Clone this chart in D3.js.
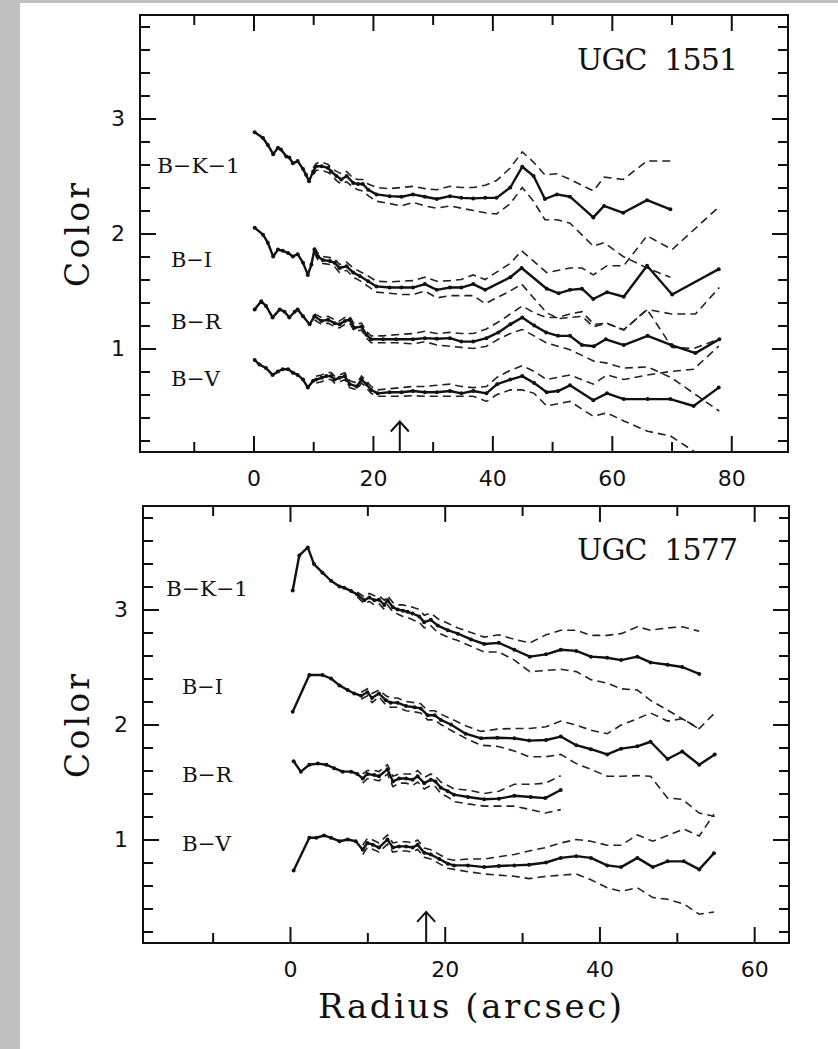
<!DOCTYPE html>
<html>
<head>
<meta charset="utf-8">
<script src="https://cdn.jsdelivr.net/npm/d3@7/dist/d3.min.js"></script>
<style>
    html, body { margin: 0; padding: 0; background: #fff; overflow: hidden; }
    svg { display: block; }
</style>
</head>
<body>
<div id="chart"></div>
<script>
// ---------- UGC 1551 (radius in arcsec, color in mag) ----------
var u1551_bk_r = [0.2, 1.6, 2.4, 3.3, 4.1, 4.6, 5.5, 6.0, 6.6, 7.4, 8.3, 8.8, 9.3, 10.0, 10.5, 11.4, 12.5, 13.0, 13.9, 14.7, 15.6, 16.7, 17.5, 18.3, 19.2, 20.6, 22.8, 24.8, 26.7, 28.7, 30.7, 32.9, 34.8, 36.8, 38.8, 40.7, 43.0, 45.0, 46.9, 48.8, 50.8, 53.0, 56.9, 58.7, 61.9, 65.9, 69.8];
var u1551_bk = [2.88, 2.83, 2.77, 2.69, 2.745, 2.73, 2.67, 2.66, 2.61, 2.63, 2.56, 2.51, 2.455, 2.54, 2.585, 2.585, 2.57, 2.54, 2.50, 2.47, 2.50, 2.44, 2.43, 2.43, 2.38, 2.34, 2.325, 2.32, 2.34, 2.32, 2.30, 2.325, 2.31, 2.305, 2.31, 2.31, 2.40, 2.58, 2.50, 2.30, 2.34, 2.32, 2.14, 2.24, 2.18, 2.29, 2.21];
var u1551_bk_hi = [null, null, null, null, null, null, null, null, null, null, null, null, null, 2.57, 2.61, 2.62, 2.60, 2.57, 2.54, 2.52, 2.54, 2.48, 2.47, 2.47, 2.43, 2.40, 2.39, 2.40, 2.41, 2.39, 2.38, 2.41, 2.40, 2.40, 2.42, 2.46, 2.57, 2.71, 2.62, 2.51, 2.52, 2.47, 2.37, 2.49, 2.47, 2.63, 2.63];
var u1551_bk_lo = [null, null, null, null, null, null, null, null, null, null, null, null, null, 2.51, 2.55, 2.55, 2.53, 2.51, 2.46, 2.43, 2.45, 2.40, 2.38, 2.37, 2.33, 2.28, 2.26, 2.24, 2.27, 2.24, 2.22, 2.24, 2.22, 2.20, 2.18, 2.17, 2.26, 2.40, 2.28, 2.12, 2.12, 2.09, 1.89, 1.92, 1.80, 1.70, 1.62];

var u1551_bi_r = [0.2, 1.6, 2.4, 3.3, 4.1, 4.9, 5.8, 6.6, 7.4, 8.3, 9.1, 9.7, 10.2, 10.8, 11.6, 12.8, 13.6, 14.4, 15.6, 16.7, 17.8, 19.2, 20.6, 22.8, 24.8, 26.7, 28.7, 30.7, 32.9, 34.8, 36.8, 38.8, 43.0, 44.9, 49.1, 51.1, 53.0, 55.0, 56.9, 59.2, 62.0, 65.9, 70.1, 73.7, 77.9];
var u1551_bi = [2.05, 1.99, 1.92, 1.80, 1.86, 1.85, 1.83, 1.80, 1.82, 1.745, 1.64, 1.73, 1.86, 1.80, 1.77, 1.76, 1.745, 1.70, 1.715, 1.66, 1.63, 1.585, 1.54, 1.53, 1.53, 1.53, 1.56, 1.51, 1.53, 1.53, 1.56, 1.51, 1.62, 1.70, 1.52, 1.48, 1.51, 1.52, 1.43, 1.49, 1.45, 1.72, 1.47, null, 1.69];
var u1551_bi_hi = [null, null, null, null, null, null, null, null, null, null, null, null, 1.88, 1.83, 1.80, 1.79, 1.78, 1.73, 1.75, 1.70, 1.67, 1.63, 1.585, 1.58, 1.585, 1.59, 1.62, 1.585, 1.59, 1.60, 1.64, 1.60, 1.74, 1.85, 1.66, 1.68, 1.70, 1.70, 1.64, 1.72, 1.72, 1.98, 1.86, null, 2.23];
var u1551_bi_lo = [null, null, null, null, null, null, null, null, null, null, null, null, 1.83, 1.77, 1.74, 1.73, 1.71, 1.66, 1.68, 1.62, 1.59, 1.54, 1.49, 1.48, 1.47, 1.47, 1.50, 1.44, 1.46, 1.46, 1.46, 1.39, 1.50, 1.56, 1.31, 1.26, 1.27, 1.28, 1.19, 1.22, 1.16, 1.34, 1.01, 1.00, 1.08];

var u1551_br_r = [0.2, 1.3, 2.1, 3.2, 4.4, 5.2, 6.0, 6.9, 7.4, 8.3, 9.4, 10.2, 11.4, 12.5, 13.6, 14.4, 15.3, 16.1, 16.9, 18.1, 18.9, 19.7, 21.7, 23.9, 26.7, 28.7, 30.7, 32.9, 34.8, 36.8, 39.0, 41.0, 43.0, 45.0, 47.0, 49.0, 51.0, 53.0, 55.0, 57.0, 59.0, 62.0, 66.0, 70.0, 74.0, 78.0];
var u1551_br = [1.34, 1.41, 1.37, 1.27, 1.34, 1.32, 1.27, 1.32, 1.34, 1.28, 1.21, 1.28, 1.24, 1.25, 1.22, 1.21, 1.24, 1.25, 1.18, 1.19, 1.12, 1.08, 1.08, 1.08, 1.08, 1.09, 1.085, 1.09, 1.06, 1.06, 1.09, 1.14, 1.21, 1.27, 1.20, 1.14, 1.11, 1.11, 1.03, 1.02, 1.08, 1.03, 1.11, 1.03, 0.96, 1.08];
var u1551_br_hi = [null, null, null, null, null, null, null, null, null, null, null, 1.30, 1.27, 1.28, 1.25, 1.24, 1.27, 1.28, 1.21, 1.22, 1.15, 1.11, 1.11, 1.12, 1.13, 1.15, 1.13, 1.14, 1.13, 1.13, 1.17, 1.23, 1.30, 1.37, 1.31, 1.27, 1.27, 1.30, 1.32, 1.21, 1.22, 1.165, 1.34, 1.30, 1.30, 1.53];
var u1551_br_lo = [null, null, null, null, null, null, null, null, null, null, null, 1.25, 1.21, 1.22, 1.19, 1.18, 1.21, 1.22, 1.15, 1.16, 1.09, 1.05, 1.05, 1.05, 1.04, 1.06, 1.03, 1.02, 1.01, 1.00, 1.02, 1.08, 1.13, 1.165, 1.11, 1.05, 1.02, 0.99, 0.94, 0.89, 0.875, 0.83, 0.84, 0.745, 0.60, 0.455];

var u1551_bv_r = [0.2, 1.0, 2.1, 3.2, 4.1, 4.9, 5.8, 6.6, 7.4, 8.3, 9.1, 10.0, 10.5, 11.4, 12.2, 13.0, 13.6, 14.4, 15.3, 16.1, 17.3, 18.1, 18.9, 19.7, 20.8, 22.8, 24.8, 26.7, 28.7, 30.7, 32.9, 34.8, 36.8, 39.0, 40.8, 43.0, 45.0, 47.0, 49.1, 51.0, 53.0, 56.9, 59.2, 62.0, 66.0, 69.8, 73.7, 77.9];
var u1551_bv = [0.90, 0.86, 0.83, 0.77, 0.80, 0.82, 0.82, 0.79, 0.77, 0.73, 0.66, 0.72, 0.73, 0.745, 0.76, 0.76, 0.73, 0.745, 0.76, 0.69, 0.67, 0.73, 0.69, 0.64, 0.61, 0.62, 0.62, 0.63, 0.62, 0.62, 0.63, 0.61, 0.63, 0.61, 0.69, 0.73, 0.76, 0.70, 0.62, 0.63, 0.68, 0.55, 0.61, 0.56, 0.56, 0.56, 0.50, 0.66];
var u1551_bv_hi = [null, null, null, null, null, null, null, null, null, null, null, null, 0.76, 0.77, 0.79, 0.79, 0.76, 0.77, 0.79, 0.72, 0.70, 0.76, 0.72, 0.67, 0.64, 0.65, 0.66, 0.67, 0.67, 0.68, 0.69, 0.67, 0.66, 0.67, 0.75, 0.81, 0.85, 0.80, 0.73, 0.75, 0.77, 0.69, 0.77, 0.73, 0.77, 0.80, 0.82, 1.02];
var u1551_bv_lo = [null, null, null, null, null, null, null, null, null, null, null, null, 0.70, 0.71, 0.73, 0.73, 0.70, 0.71, 0.73, 0.66, 0.64, 0.70, 0.66, 0.61, 0.585, 0.585, 0.585, 0.59, 0.585, 0.585, 0.585, 0.585, 0.585, 0.54, 0.60, 0.64, 0.64, 0.61, 0.50, 0.52, 0.54, 0.41, 0.44, 0.37, 0.28, 0.24, 0.107, -0.05];

// ---------- UGC 1577 ----------
var u1577_bk_r = [0.35, 1.2, 2.3, 3.1, 4.2, 5.3, 6.4, 7.0, 7.9, 8.7, 9.6, 10.25, 10.9, 11.5, 12.2, 12.6, 13.3, 13.9, 14.6, 15.2, 15.85, 16.7, 17.35, 18.2, 19.1, 20.4, 21.7, 23.4, 25.1, 27.0, 29.0, 31.0, 33.1, 35.0, 37.0, 38.9, 41.0, 42.8, 44.9, 46.6, 48.8, 50.7, 52.9];
var u1577_bk = [3.165, 3.47, 3.54, 3.395, 3.32, 3.25, 3.20, 3.19, 3.16, 3.13, 3.08, 3.105, 3.08, 3.085, 3.04, 3.08, 3.02, 3.00, 2.99, 2.98, 2.965, 2.94, 2.89, 2.91, 2.86, 2.82, 2.79, 2.74, 2.70, 2.71, 2.65, 2.59, 2.61, 2.65, 2.64, 2.59, 2.58, 2.56, 2.59, 2.54, 2.52, 2.50, 2.44];
var u1577_bk_hi = [null, null, null, null, null, null, null, null, null, 3.15, 3.11, 3.14, 3.12, 3.12, 3.08, 3.12, 3.06, 3.04, 3.04, 3.03, 3.02, 3.00, 2.95, 2.97, 2.92, 2.88, 2.84, 2.80, 2.76, 2.78, 2.74, 2.71, 2.78, 2.82, 2.82, 2.775, 2.775, 2.79, 2.85, 2.82, 2.84, 2.85, 2.81];
var u1577_bk_lo = [null, null, null, null, null, null, null, null, null, 3.11, 3.05, 3.07, 3.04, 3.05, 3.00, 3.04, 2.98, 2.96, 2.94, 2.93, 2.91, 2.89, 2.84, 2.86, 2.80, 2.76, 2.73, 2.68, 2.63, 2.63, 2.56, 2.46, 2.47, 2.48, 2.46, 2.39, 2.36, 2.31, 2.30, 2.21, 2.125, 2.05, 1.96];

var u1577_bi_r = [0.35, 2.5, 4.2, 5.3, 6.4, 7.45, 8.3, 9.2, 10.0, 10.6, 11.5, 12.4, 13.0, 13.9, 15.0, 16.1, 16.9, 17.8, 18.7, 19.5, 20.8, 22.7, 24.7, 26.8, 29.0, 30.9, 33.1, 35.0, 37.0, 38.9, 41.0, 42.8, 44.9, 46.6, 48.8, 50.7, 52.9, 54.9];
var u1577_bi = [2.11, 2.43, 2.43, 2.40, 2.34, 2.30, 2.27, 2.25, 2.28, 2.23, 2.27, 2.21, 2.19, 2.19, 2.16, 2.15, 2.14, 2.08, 2.08, 2.04, 2.00, 1.92, 1.88, 1.885, 1.88, 1.86, 1.865, 1.895, 1.82, 1.785, 1.74, 1.79, 1.81, 1.85, 1.70, 1.765, 1.65, 1.74];
var u1577_bi_hi = [null, null, null, null, null, null, null, 2.28, 2.31, 2.27, 2.30, 2.25, 2.23, 2.23, 2.20, 2.19, 2.18, 2.12, 2.12, 2.09, 2.05, 1.99, 1.94, 1.96, 1.965, 1.965, 1.98, 2.03, 1.995, 1.95, 1.92, 1.995, 2.05, 2.10, 2.03, 2.05, 1.965, 2.10];
var u1577_bi_lo = [null, null, null, null, null, null, null, 2.22, 2.25, 2.19, 2.24, 2.17, 2.15, 2.15, 2.12, 2.11, 2.10, 2.04, 2.04, 2.00, 1.95, 1.88, 1.82, 1.81, 1.77, 1.72, 1.72, 1.74, 1.66, 1.61, 1.55, 1.55, 1.555, 1.55, 1.36, 1.35, 1.23, 1.20];

var u1577_br_r = [0.47, 1.4, 2.5, 3.6, 4.7, 5.7, 6.8, 7.9, 8.7, 9.4, 10.0, 10.9, 11.5, 12.6, 13.3, 14.1, 15.0, 15.85, 16.5, 17.35, 18.2, 18.8, 19.5, 20.4, 21.2, 23.0, 25.1, 27.0, 29.0, 31.1, 33.0, 35.0];
var u1577_br = [1.68, 1.59, 1.65, 1.66, 1.65, 1.62, 1.59, 1.59, 1.57, 1.53, 1.57, 1.56, 1.55, 1.61, 1.505, 1.53, 1.53, 1.52, 1.55, 1.49, 1.52, 1.505, 1.45, 1.42, 1.39, 1.37, 1.35, 1.355, 1.38, 1.37, 1.36, 1.43];
var u1577_br_hi = [null, null, null, null, null, null, null, null, null, 1.57, 1.60, 1.60, 1.59, 1.65, 1.55, 1.57, 1.57, 1.57, 1.60, 1.54, 1.57, 1.55, 1.50, 1.47, 1.44, 1.43, 1.40, 1.42, 1.48, 1.48, 1.49, 1.555];
var u1577_br_lo = [null, null, null, null, null, null, null, null, null, 1.49, 1.53, 1.52, 1.51, 1.57, 1.46, 1.49, 1.49, 1.47, 1.50, 1.44, 1.47, 1.46, 1.40, 1.37, 1.33, 1.31, 1.29, 1.29, 1.29, 1.26, 1.23, 1.26];

var u1577_bv_r = [0.47, 2.5, 3.4, 4.4, 5.3, 6.4, 7.45, 8.5, 9.4, 10.0, 10.7, 11.5, 12.6, 13.3, 14.1, 15.0, 15.85, 16.5, 17.35, 18.2, 19.3, 20.4, 21.2, 23.0, 25.1, 27.0, 29.0, 30.9, 33.1, 35.0, 37.0, 38.9, 41.0, 42.8, 44.9, 46.9, 48.8, 50.9, 52.9, 54.8];
var u1577_bv = [0.73, 1.015, 1.015, 1.035, 1.015, 0.985, 1.00, 0.985, 0.91, 0.97, 0.955, 0.93, 1.00, 0.93, 0.94, 0.94, 0.93, 0.955, 0.885, 0.87, 0.83, 0.79, 0.775, 0.775, 0.76, 0.77, 0.775, 0.78, 0.80, 0.84, 0.855, 0.84, 0.775, 0.76, 0.84, 0.76, 0.81, 0.81, 0.74, 0.88];
var u1577_bv_hi = [null, null, null, null, null, null, null, null, 0.95, 1.01, 0.995, 0.97, 1.04, 0.97, 0.98, 0.98, 0.97, 0.995, 0.925, 0.91, 0.87, 0.83, 0.82, 0.83, 0.83, 0.85, 0.87, 0.90, 0.93, 0.97, 1.00, 0.985, 0.95, 0.95, 1.04, 0.985, 1.035, 1.09, 1.03, 1.22];
var u1577_bv_lo = [null, null, null, null, null, null, null, null, 0.87, 0.93, 0.915, 0.89, 0.96, 0.89, 0.90, 0.90, 0.89, 0.915, 0.845, 0.83, 0.79, 0.75, 0.74, 0.72, 0.70, 0.69, 0.68, 0.66, 0.68, 0.69, 0.70, 0.65, 0.58, 0.55, 0.58, 0.495, 0.48, 0.44, 0.35, 0.37];

// tick values
var yMajor = [1, 2, 3];
var yMinor = [0.2, 0.4, 0.6, 0.8, 1.2, 1.4, 1.6, 1.8, 2.2, 2.4, 2.6, 2.8, 3.2, 3.4, 3.6, 3.8];
var x1551Major = [0, 20, 40, 60, 80];
var x1551Minor = [-10, 10, 30, 50, 70];
var x1577Major = [0, 20, 40, 60];
var x1577Minor = [-10, 10, 30, 50];

// ---------- layout ----------
var WIDTH = 838, HEIGHT = 1049;
var TICK_FONT = "'DejaVu Sans', sans-serif";
var TEXT_FONT = "'DejaVu Serif', serif";

var panels = [
    {
        title: "UGC  1551", titleX: 577, titleY: 70,
        left: 140, top: 15, width: 648, height: 437,
        xDomain: [-19, 89.5], xMajor: x1551Major, xMinor: x1551Minor,
        arrowR: 24.5, arrowTip: 0.365, colorLabelY: 235,
        series: [
            {name: "B\u2212K\u22121", r: u1551_bk_r, c: u1551_bk, hi: u1551_bk_hi, lo: u1551_bk_lo, lx: 157, ly: 173, lw: 83},
            {name: "B\u2212I", r: u1551_bi_r, c: u1551_bi, hi: u1551_bi_hi, lo: u1551_bi_lo, lx: 171, ly: 267, lw: 41},
            {name: "B\u2212R", r: u1551_br_r, c: u1551_br, hi: u1551_br_hi, lo: u1551_br_lo, lx: 171, ly: 329, lw: 50},
            {name: "B\u2212V", r: u1551_bv_r, c: u1551_bv, hi: u1551_bv_hi, lo: u1551_bv_lo, lx: 171, ly: 386, lw: 49}
        ]
    },
    {
        title: "UGC  1577", titleX: 577, titleY: 560,
        left: 143, top: 506, width: 646, height: 437,
        xDomain: [-19, 64.5], xMajor: x1577Major, xMinor: x1577Minor,
        arrowR: 17.6, arrowTip: 0.37, colorLabelY: 726,
        series: [
            {name: "B\u2212K\u22121", r: u1577_bk_r, c: u1577_bk, hi: u1577_bk_hi, lo: u1577_bk_lo, lx: 166, ly: 596, lw: 82},
            {name: "B\u2212I", r: u1577_bi_r, c: u1577_bi, hi: u1577_bi_hi, lo: u1577_bi_lo, lx: 182, ly: 694, lw: 41},
            {name: "B\u2212R", r: u1577_br_r, c: u1577_br, hi: u1577_br_hi, lo: u1577_br_lo, lx: 182, ly: 782, lw: 50},
            {name: "B\u2212V", r: u1577_bv_r, c: u1577_bv, hi: u1577_bv_hi, lo: u1577_bv_lo, lx: 182, ly: 851, lw: 49}
        ]
    }
];

var svg = d3.select("#chart").append("svg")
    .attr("width", WIDTH)
    .attr("height", HEIGHT);

// scanned page border
svg.append("rect").attr("x", 0).attr("y", 0).attr("width", WIDTH).attr("height", HEIGHT).attr("fill", "#fff");
svg.append("rect").attr("x", 0).attr("y", 0).attr("width", 20).attr("height", HEIGHT).attr("fill", "#c0c0c0");
svg.append("rect").attr("x", 0).attr("y", 0).attr("width", WIDTH).attr("height", 3).attr("fill", "#c0c0c0");

function pts(r, c) {
    // skip radii where this curve was not measured
    return d3.zip(r, c).filter(function (d) { return d[1] != null; });
}

function drawPanel(p, idx) {
    var x = d3.scaleLinear().domain(p.xDomain).range([0, p.width]);
    var y = d3.scaleLinear().domain([0.1, 3.9]).range([p.height, 0]);

    var g = svg.append("g").attr("transform", "translate(" + p.left + "," + p.top + ")");

    var clipId = "clip" + idx;
    g.append("clipPath").attr("id", clipId)
        .append("rect").attr("width", p.width).attr("height", p.height);

    // ticks, all pointing inward
    function ticks(axis, values, size, label, tx, ty) {
        var a = axis.tickValues(values).tickSize(-size).tickPadding(label ? 18 : 0)
            .tickFormat(label ? d3.format("d") : "");
        var ag = g.append("g").attr("transform", "translate(" + tx + "," + ty + ")").call(a);
        ag.select(".domain").remove();
        ag.selectAll(".tick line").attr("stroke", "#111").attr("stroke-width", 2);
        ag.selectAll("text").attr("fill", "#111").style("font-family", TICK_FONT).style("font-size", "22px");
        return ag;
    }
    ticks(d3.axisBottom(x), p.xMajor, 16, true, 0, p.height);
    ticks(d3.axisBottom(x), p.xMinor, 10, false, 0, p.height);
    ticks(d3.axisTop(x), p.xMajor, 16, false, 0, 0);
    ticks(d3.axisTop(x), p.xMinor, 10, false, 0, 0);
    ticks(d3.axisLeft(y), yMajor, 16, true, 0, 0).selectAll("text").attr("x", -15);
    ticks(d3.axisLeft(y), yMinor, 10, false, 0, 0);
    ticks(d3.axisRight(y), yMajor, 16, false, p.width, 0);
    ticks(d3.axisRight(y), yMinor, 10, false, p.width, 0);

    g.append("rect")
        .attr("width", p.width).attr("height", p.height)
        .attr("fill", "none").attr("stroke", "#111").attr("stroke-width", 2);

    var line = d3.line()
        .x(function (d) { return x(d[0]); })
        .y(function (d) { return y(d[1]); });

    var curves = g.append("g").attr("clip-path", "url(#" + clipId + ")");

    p.series.forEach(function (s) {
        [s.hi, s.lo].forEach(function (e) {
            curves.append("path")
                .attr("d", line(pts(s.r, e)))
                .attr("fill", "none")
                .attr("stroke", "#222")
                .attr("stroke-width", 1.6)
                .attr("stroke-dasharray", "8,5");
        });
        var main = pts(s.r, s.c);
        curves.append("path")
            .attr("d", line(main))
            .attr("fill", "none")
            .attr("stroke", "#111")
            .attr("stroke-width", 2.4)
            .attr("stroke-linejoin", "round");
        curves.selectAll(null)
            .data(main).enter()
            .append("circle")
            .attr("cx", function (d) { return x(d[0]); })
            .attr("cy", function (d) { return y(d[1]); })
            .attr("r", 2)
            .attr("fill", "#111");

        svg.append("text")
            .attr("x", s.lx).attr("y", s.ly)
            .attr("textLength", s.lw).attr("lengthAdjust", "spacingAndGlyphs")
            .style("font-family", TEXT_FONT).style("font-size", "21px")
            .attr("fill", "#111")
            .text(s.name);
    });

    // arrow marking the radius limit
    var ax = x(p.arrowR), ay = y(p.arrowTip);
    g.append("path")
        .attr("d", "M" + ax + "," + p.height + "V" + ay + "M" + (ax - 9) + "," + (ay + 10) + "L" + ax + "," + ay + "L" + (ax + 9) + "," + (ay + 10))
        .attr("fill", "none").attr("stroke", "#111").attr("stroke-width", 2);

    svg.append("text")
        .attr("x", p.titleX).attr("y", p.titleY)
        .attr("textLength", 161).attr("lengthAdjust", "spacing")
        .style("font-family", TEXT_FONT).style("font-size", "30px")
        .style("white-space", "pre")
        .attr("fill", "#111")
        .text(p.title);

    svg.append("text")
        .attr("transform", "translate(89," + p.colorLabelY + ") rotate(-90)")
        .attr("text-anchor", "middle")
        .attr("textLength", 104).attr("lengthAdjust", "spacing")
        .style("font-family", TEXT_FONT).style("font-size", "33px")
        .attr("fill", "#111")
        .text("Color");
}

panels.forEach(drawPanel);

svg.append("text")
    .attr("x", 470).attr("y", 1018)
    .attr("text-anchor", "middle")
    .attr("textLength", 304).attr("lengthAdjust", "spacing")
    .style("font-family", TEXT_FONT).style("font-size", "34px")
    .attr("fill", "#111")
    .text("Radius (arcsec)");
</script>
</body>
</html>
